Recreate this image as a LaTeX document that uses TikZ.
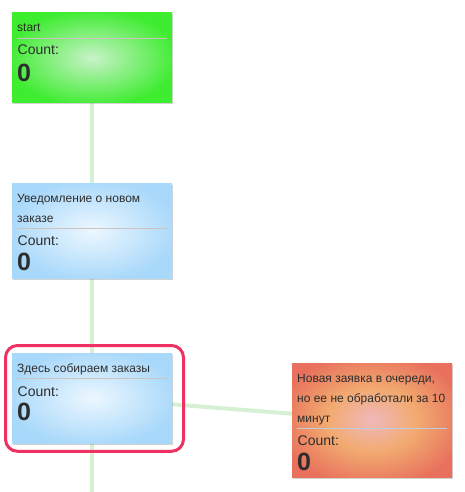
\documentclass[tikz,border=0pt]{standalone}
\usepackage{fontspec}
\setmainfont{Liberation Sans}
\usetikzlibrary{shadows,backgrounds}
\definecolor{gIn}{RGB}{200,242,200}
\definecolor{gOut}{RGB}{62,236,48}
\definecolor{bIn}{RGB}{236,247,255}
\definecolor{bOut}{RGB}{168,216,250}
\definecolor{rIn}{RGB}{240,184,188}
\definecolor{rMid}{RGB}{242,170,112}
\definecolor{rOut}{RGB}{232,112,92}
\definecolor{txt}{RGB}{45,45,45}
\definecolor{sep}{RGB}{205,195,190}
\definecolor{sepb}{RGB}{190,205,220}
\definecolor{link}{RGB}{214,240,211}
\definecolor{hl}{RGB}{238,48,98}
\pgfdeclareradialshading{greenbox}{\pgfpoint{0bp}{0bp}}{color(0bp)=(gIn); color(27bp)=(gOut); color(50bp)=(gOut)}
\pgfdeclareradialshading{bluebox}{\pgfpoint{0bp}{0bp}}{color(0bp)=(bIn); color(27bp)=(bOut); color(50bp)=(bOut)}
\pgfdeclareradialshading{redbox}{\pgfpoint{0bp}{0bp}}{color(0bp)=(rIn); color(14bp)=(rMid); color(30bp)=(rOut); color(50bp)=(rOut)}
\tikzset{
  box/.style={rectangle, inner sep=0pt, minimum width=160pt,
    drop shadow={opacity=0.35, shadow xshift=0.5pt, shadow yshift=-1.5pt}},
  title/.style={inner sep=0pt, anchor=base west, text=txt, align=left,
    font=\fontsize{12}{20}\selectfont},
  countlbl/.style={inner sep=0pt, anchor=base west, text=txt,
    font=\fontsize{14}{16}\selectfont},
  countval/.style={inner sep=0pt, anchor=base west, text=txt,
    font=\fontsize{25}{28}\selectfont\bfseries},
  linkline/.style={draw=link, line width=4pt},
  sepline/.style={draw=sep, line width=0.8pt},
}
\begin{document}
\begin{tikzpicture}[x=1pt,y=-1pt]
\useasboundingbox (0,0) rectangle (464,492);
% boxes
\node[box, shading=greenbox, minimum height=90pt] (b1) at (92,58) {};
\node[box, shading=bluebox, minimum height=95pt] (b2) at (92,230.5) {};
\node[box, shading=bluebox, minimum height=90pt] (b3) at (92,398) {};
\node[box, shading=redbox, minimum height=114pt] (b4) at (372,420) {};
\coordinate (end) at (92,492);
% connectors
\begin{pgfonlayer}{background}
\draw[linkline] (b1.center) -- (b2.center) -- (b3.center) -- (end);
\draw[linkline] (b3.center) -- (b4.center);
\end{pgfonlayer}
% box 1
\node[title] (t1) at (17,31.5) {start};
\draw[sepline] (17,38) -- (167,38);
\node[countlbl] (c1) at (17.5,55) {Count:};
\node[countval] (v1) at (17,81.5) {0};
% box 2
\node[title] (t2) at (17,222) {Уведомление о новом\\заказе};
\draw[sepline] (17,228) -- (167,228);
\node[countlbl] (c2) at (17.5,245) {Count:};
\node[countval] (v2) at (17,270) {0};
% box 3
\node[title] (t3) at (17,372) {Здесь собираем заказы};
\draw[sepline] (17,378) -- (167,378);
\node[countlbl] (c3) at (17.5,396) {Count:};
\node[countval] (v3) at (17,420.5) {0};
% box 4
\node[title] (t4) at (297,422) {Новая заявка в очереди,\\но ее не обработали за 10\\минут};
\draw[sepline, draw=sepb] (297,428) -- (447,428);
\node[countlbl] (c4) at (297.5,445) {Count:};
\node[countval] (v4) at (297,470.5) {0};
% highlight
\draw[draw=hl, line width=3pt, rounded corners=12pt] (5.5,345.5) rectangle (183.5,451.3);
\end{tikzpicture}
\end{document}
